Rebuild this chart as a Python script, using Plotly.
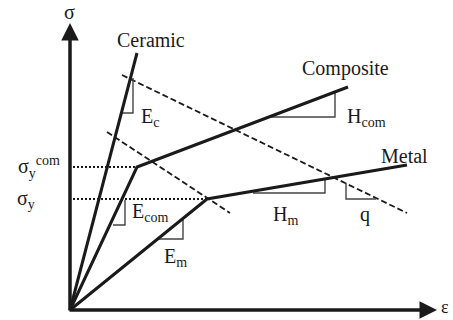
import plotly.graph_objects as go

# Schematic stress-strain curves (arbitrary units, origin at 0,0)
ceramic_strain = [0, 67]
ceramic_stress = [0, 257]
composite_strain = [0, 67, 278]
composite_stress = [0, 143, 223]
metal_strain = [0, 137, 337]
metal_stress = [0, 111, 145]

sigma_y_com = 143
sigma_y = 111

# Dashed guide lines (softening slope q)
upper_dash_x = [52, 337]
upper_dash_y = [235, 97]
lower_dash_x = [37, 160]
lower_dash_y = [178, 97]

# Slope triangles
tri_Ec_x = [63, 63, 51]
tri_Ec_y = [232, 197, 197]
tri_Ecom_x = [55, 55, 43]
tri_Ecom_y = [110, 85, 85]
tri_Em_x = [113, 113, 88]
tri_Em_y = [93, 71, 71]
tri_Hcom_x = [200, 265, 265]
tri_Hcom_y = [193, 193, 218]
tri_Hm_x = [183, 255, 255]
tri_Hm_y = [117, 117, 131]
tri_q_x = [276, 276, 306]
tri_q_y = [127, 111, 111]

serif = "Liberation Serif"
ink = "#1a1a1a"
thin = "#444444"

fig = go.Figure()

def line(x, y, width, color=ink, dash="solid"):
    fig.add_trace(go.Scatter(x=x, y=y, mode="lines",
                             line=dict(color=color, width=width, dash=dash),
                             hoverinfo="skip", showlegend=False))

# Yield level dotted lines
line([3, composite_strain[1]], [sigma_y_com, sigma_y_com], 1.8, dash="2px,2px")
line([3, metal_strain[1]], [sigma_y, sigma_y], 1.8, dash="2px,2px")

# Dashed lines
line(upper_dash_x, upper_dash_y, 1.8, dash="6px,3px")
line(lower_dash_x, lower_dash_y, 1.8, dash="6px,3px")

# Triangles
for tx, ty in [(tri_Ec_x, tri_Ec_y), (tri_Ecom_x, tri_Ecom_y), (tri_Em_x, tri_Em_y),
               (tri_Hcom_x, tri_Hcom_y), (tri_Hm_x, tri_Hm_y), (tri_q_x, tri_q_y)]:
    line(tx, ty, 1.4, color=thin)

# Material curves
line(ceramic_strain, ceramic_stress, 3)
line(composite_strain, composite_stress, 3)
line(metal_strain, metal_stress, 3)

# Axes with arrows
arrow_common = dict(showarrow=True, arrowhead=2, arrowsize=1, arrowwidth=3.5,
                    arrowcolor=ink, axref="x", ayref="y", text="")
fig.add_annotation(x=0, y=287, ax=0, ay=-2, **arrow_common)
fig.add_annotation(x=367, y=0, ax=-2, ay=0, **arrow_common)

def label(x, y, text, size=20, xanchor="left"):
    fig.add_annotation(x=x, y=y, text=text, showarrow=False, xanchor=xanchor,
                       yanchor="middle", font=dict(family=serif, size=size, color=ink))

label(-1, 298, "σ", xanchor="center")
label(381, 3, "ε", size=18, xanchor="right")
label(81, 270, "Ceramic", xanchor="center")
label(275, 242, "Composite", xanchor="center")
label(334, 154, "Metal", xanchor="center")
label(69, 193, "E<sub>c</sub>")
label(60, 98, "E<sub>com</sub>")
label(92, 53, "E<sub>m</sub>")
label(275, 193, "H<sub>com</sub>")
label(201, 95, "H<sub>m</sub>")
label(295, 96, "q", xanchor="center")
label(-8, sigma_y_com, "σ<sub>y</sub><sup>com</sup>", xanchor="right")
label(-33, sigma_y, "σ<sub>y</sub>", xanchor="right")

fig.update_layout(
    width=453, height=320,
    margin=dict(l=0, r=0, t=0, b=0),
    paper_bgcolor="white", plot_bgcolor="white",
    xaxis=dict(range=[-70, 383], visible=False, fixedrange=True),
    yaxis=dict(range=[-10, 310], visible=False, fixedrange=True),
)

fig.write_html("out.html")
